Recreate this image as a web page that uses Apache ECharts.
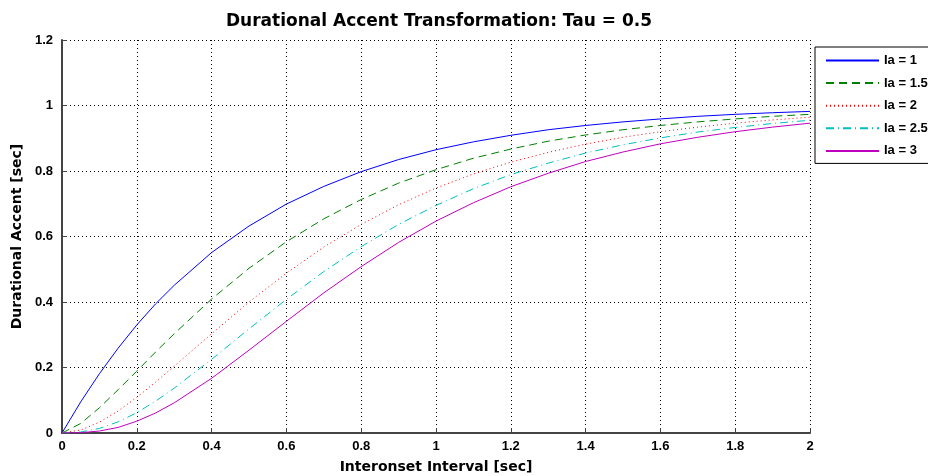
<!DOCTYPE html>
<html><head><meta charset="utf-8">
<script src="https://cdn.jsdelivr.net/npm/echarts@6/dist/echarts.min.js"></script>
<style>html,body{margin:0;padding:0;background:#fff}#c{width:928px;height:476px}</style>
</head><body><div id="c"></div>
<script>
const xs = [0,0.05,0.1,0.15,0.2,0.25,0.3,0.4,0.5,0.6,0.7,0.8,0.9,1.0,1.1,1.2,1.3,1.4,1.5,1.6,1.7,1.8,1.9,2.0];
const ia1  = [0,0.095,0.181,0.259,0.330,0.394,0.451,0.551,0.632,0.699,0.753,0.798,0.835,0.865,0.889,0.909,0.926,0.939,0.950,0.959,0.967,0.973,0.978,0.982];
const ia15 = [0,0.029,0.077,0.132,0.189,0.247,0.303,0.409,0.503,0.584,0.654,0.713,0.763,0.804,0.839,0.867,0.891,0.910,0.926,0.939,0.950,0.959,0.967,0.973];
const ia2  = [0,0.009,0.033,0.067,0.109,0.155,0.204,0.303,0.400,0.488,0.568,0.637,0.697,0.748,0.791,0.827,0.857,0.882,0.903,0.920,0.934,0.946,0.956,0.964];
const ia25 = [0,0.003,0.014,0.034,0.062,0.097,0.137,0.225,0.318,0.408,0.493,0.569,0.637,0.695,0.746,0.789,0.824,0.855,0.880,0.901,0.919,0.933,0.945,0.955];
const ia3  = [0,0.001,0.006,0.017,0.036,0.061,0.092,0.167,0.253,0.341,0.428,0.508,0.582,0.647,0.703,0.752,0.793,0.829,0.858,0.883,0.903,0.920,0.934,0.946];
const names = ['Ia = 1','Ia = 1.5','Ia = 2','Ia = 2.5','Ia = 3'];
const seriesVals = [ia1, ia15, ia2, ia25, ia3];
const colors = ['#0000ff','#008000','#ff0000','#00bfbf','#bf00bf'];
const dashes = ['solid',[8,5],[1,3],[8,4,1,4],'solid'];

const chart = echarts.init(document.getElementById('c'));
const font = 'Liberation Sans, Arial, sans-serif';
const wide = 'DejaVu Sans, sans-serif';
chart.setOption({
  animation:false,
  title:{text:'Durational Accent Transformation: Tau = 0.5',left:434,textAlign:'center',top:8,
    textStyle:{fontFamily:wide,fontSize:17,fontWeight:'bold',color:'#000'}},
  grid:{left:62,right:118,top:40,bottom:43,containLabel:false,outerBoundsMode:'none'},
  legend:{orient:'vertical',left:815,top:47,padding:[7,60,6,10],itemGap:9.6,itemWidth:53,itemHeight:10,
    borderColor:'#000',borderWidth:1,backgroundColor:'#fff',
    itemStyle:{opacity:0},
    textStyle:{fontFamily:font,fontSize:13,fontWeight:'bold',color:'#000'},
    data:names},
  xAxis:{type:'value',min:0,max:2,interval:0.2,name:'Interonset Interval [sec]',nameLocation:'middle',nameGap:27,
    nameTextStyle:{fontFamily:wide,fontSize:14,fontWeight:'bold',color:'#000'},
    axisLine:{lineStyle:{color:'#444',width:2}},
    axisTick:{inside:true,length:5,lineStyle:{color:'#444'}},
    axisLabel:{fontFamily:font,fontSize:13,fontWeight:'bold',color:'#000',margin:7},
    splitLine:{show:true,lineStyle:{color:'#000',type:[1,3],width:1}}},
  yAxis:{type:'value',min:0,max:1.2,interval:0.2,name:'Durational Accent [sec]',nameLocation:'middle',nameGap:36,
    nameTextStyle:{fontFamily:wide,fontSize:14,fontWeight:'bold',color:'#000'},
    axisLine:{show:true,lineStyle:{color:'#444',width:2}},
    axisTick:{show:true,inside:true,length:5,lineStyle:{color:'#444'}},
    axisLabel:{fontFamily:font,fontSize:13,fontWeight:'bold',color:'#000',margin:9},
    splitLine:{show:true,lineStyle:{color:'#000',type:[1,3],width:1}}},
  series: names.map((n,i)=>({
    name:n,type:'line',symbol:'none',smooth:false,
    data: xs.map((x,k)=>[x,seriesVals[i][k]]),
    itemStyle:{color:colors[i]},
    lineStyle:{color:colors[i],width:1,type:dashes[i]}
  }))
});
</script></body></html>
